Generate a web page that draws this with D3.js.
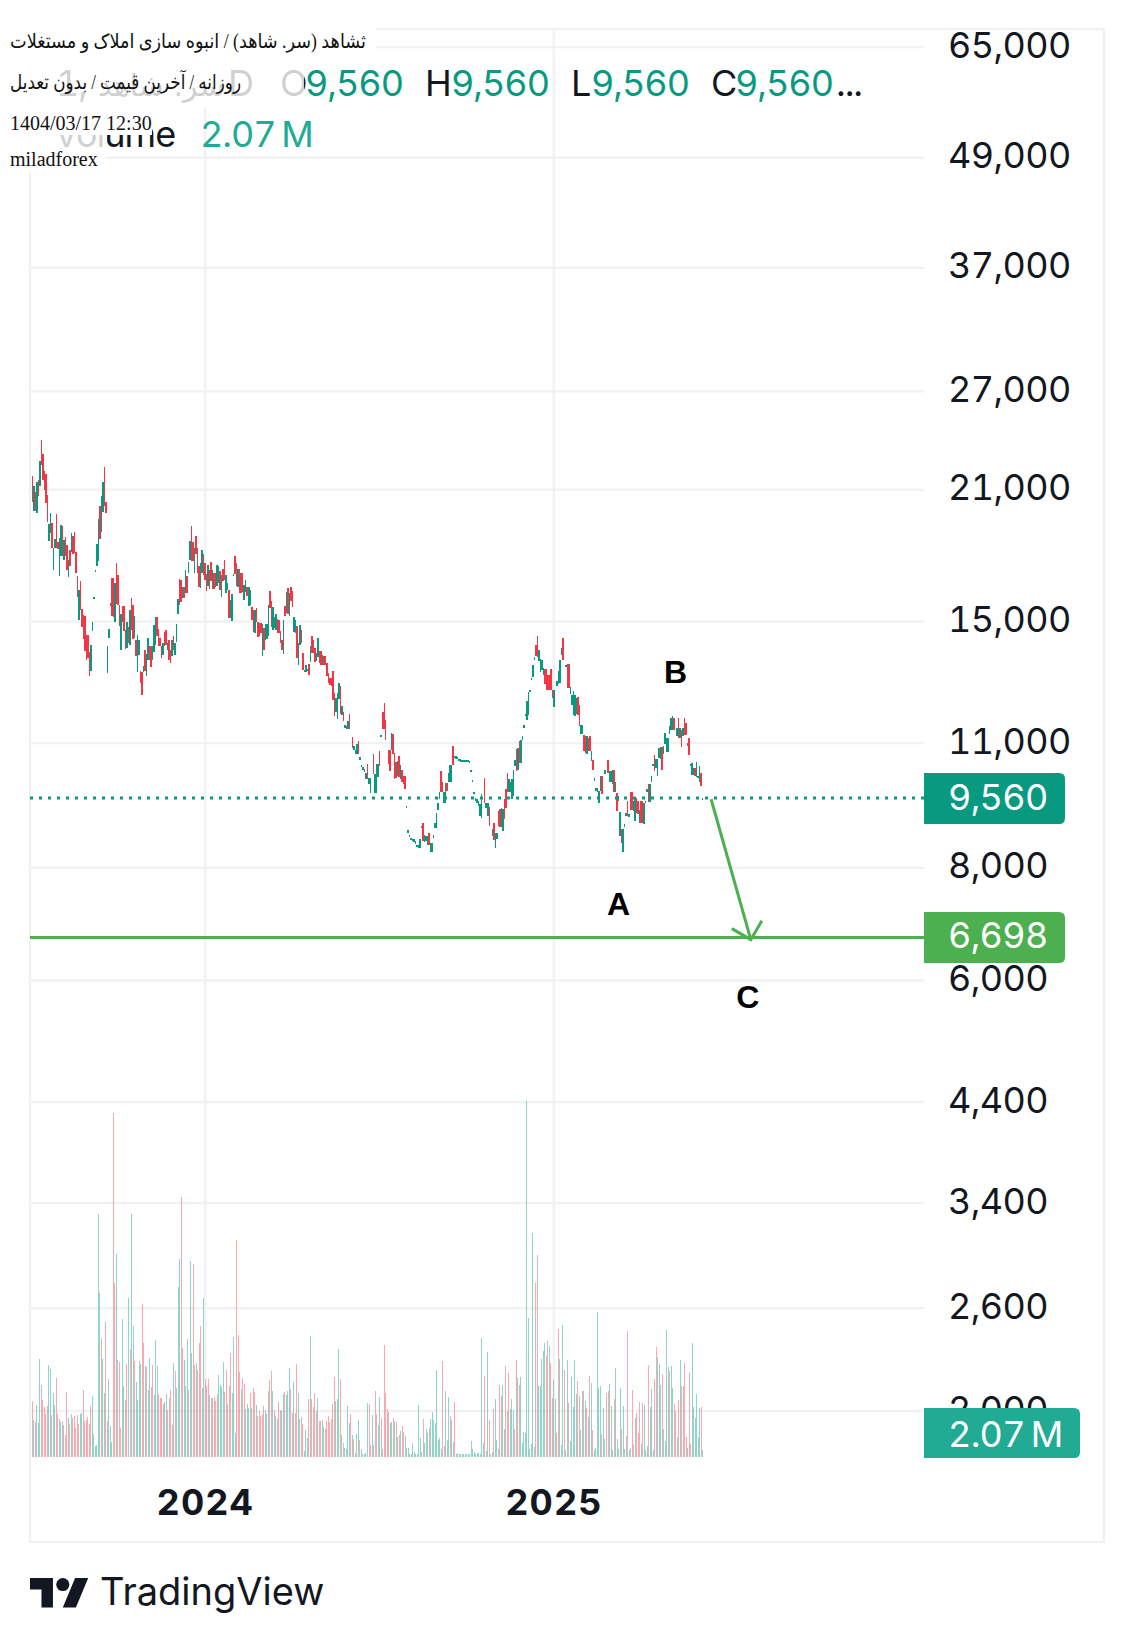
<!DOCTYPE html>
<html>
<head>
<meta charset="utf-8">
<script src="https://cdn.jsdelivr.net/npm/d3@7"></script>
<style>
  html, body { margin: 0; background: #fff; }
  svg { display: block; }
  text { font-family: Inter, "Noto Sans", sans-serif; font-variant-numeric: tabular-nums; font-feature-settings: "tnum"; }
</style>
</head>
<body>
<script>
// values
const opens = [
  21760,19870,20900,19790,21530,21180,23840,23000,22030,21860,
  20730,18400,18790,19280,17090,18090,19760,18360,16830,17710,
  19160,17530,18610,18240,16790,18010,17930,18660,18860,17920,
  16830,15040,16650,15500,15240,15210,14500,14500,13870,13210,
  14630,15870,17010,17270,17490,20150,18830,19820,21430,20360,
  13160,14400,15600,16780,16780,14970,16900,16900,15650,13960,
  15620,15620,14690,14020,14810,14140,15930,15660,14380,14320,
  13180,13780,13210,13190,13180,13960,13040,13590,14080,14100,
  13590,13870,14140,15170,14710,14380,14080,13780,14620,14690,
  13960,14320,13960,13720,14470,13760,14240,15300,16720,16690,
  15920,16400,16130,16860,16980,17560,18360,18360,16980,18660,
  18090,17300,16340,16980,17830,17420,16950,16430,17120,17470,
  16300,16980,16980,16430,16540,17080,15980,17150,17530,16130,
  16270,16270,15130,15030,16830,17710,17400,16400,17150,16980,
  16980,15860,16190,16400,15600,15630,15560,15460,14570,15530,
  14970,14950,14960,13720,14750,14300,14360,14440,16230,15790,
  14690,14750,14690,15110,15040,14630,14320,13810,15590,15330,
  16330,15220,16400,16230,14610,14570,14840,13440,14140,14690,
  13840,13180,13180,13210,13470,13520,14470,14300,14020,13550,
  13690,13920,13920,13420,13750,13740,13480,13160,12990,12990,
  13210,12500,11900,11700,12320,12710,11830,11900,11420,11390,
  11390,11850,null,11170,10820,10700,10690,11070,10530,10350,
  10280,10210,10030,10440,9900,9690,null,10710,9680,9680,
  10090,10770,11170,11900,11900,11660,null,10800,10800,10800,
  11270,10730,10480,10110,10640,10030,10280,10110,10110,9310,
  8750,8660,8600,8560,8540,8500,8440,8410,8410,
  8860,8970,8540,8560,8480,8750,8340,8340,8630,
  8860,8860,9270,9530,10250,9970,9450,9450,9930,9950,
  9950,9950,10930,10590,10570,10570,10500,10490,10480,10480,
  10480,10480,10470,10460,10240,9950,9650,9490,9430,9370,
  9130,9090,null,10050,9330,9130,9350,null,8670,8960,
  8410,8600,9250,9290,8880,8790,9530,9775,10190,9700,
  9700,9530,9610,10370,10840,10280,11050,10460,11100,11440,
  11780,11680,11830,12540,12910,13030,13610,14110,14450,13550,
  13180,13270,13100,13290,13290,13100,13100,13290,12590,12050,
  null,12720,12800,12830,13770,14380,null,13360,13470,13460,12480,
  12110,11830,11780,11860,12370,12130,11250,11250,11220,11190,
  10710,11150,11190,10510,10530,9990,9730,9700,9450,9730,
  10110,null,10160,null,10530,9950,9950,9920,10260,9700,9680,
  9490,8670,8825,8340,8880,9130,9490,9110,9700,9700,
  9250,9010,9570,9490,8960,9490,9490,8940,9450,9700,
  9900,9470,9950,10370,10660,10330,10110,10600,10570,10900,
  10690,10960,10750,10750,11250,11370,11370,11730,null,11190,
  11730,11150,11370,11190,11730,11580,10990,11150,10370,10130,
  10130,10330,10090,10050,9950,10190,9540
];
const closes = [
  20370,21180,19870,21400,20640,22570,22340,21530,21000,20320,
  19320,19240,19790,18110,18090,18530,18090,18040,18560,19210,
  17710,18480,17740,17120,17560,17270,18790,17830,17860,16980,
  15960,16270,15460,14790,14360,13900,13610,13670,13040,14140,
  14990,15980,17120,18300,19500,18530,20640,21430,20120,19770,
  14080,14730,15740,15220,15190,16560,15680,15650,14840,15280,
  14990,14650,14000,14990,14200,15460,14690,14360,15200,13720,
  14500,14320,12810,12430,13400,13210,13820,14380,13610,13350,
  14100,14870,15170,14440,14080,14080,13670,14200,14080,14140,
  14200,13590,13500,14320,13940,14200,14920,15900,15640,15770,
  16400,15930,17120,16130,17460,18430,17710,17490,18090,17830,
  16980,16370,17420,18010,16900,16690,16230,17310,16300,16620,
  17120,16300,16400,17340,17300,16270,16900,16620,16690,16900,
  16540,15130,15860,16100,16950,16950,16430,17150,16130,16150,
  16190,16480,16690,16000,16400,16270,15070,14600,15460,14970,
  14420,14450,14570,14920,13940,14920,14920,15660,15530,14810,
  15580,15190,15300,14550,14550,14200,13960,15070,15200,16170,
  15300,16130,15820,15560,15180,15070,13680,14200,14870,14190,
  13270,13270,13440,13290,13100,14100,13840,13840,13520,13840,
  14390,13500,13440,13780,13420,13430,13040,12810,12750,12720,
  12290,11800,12340,12500,12810,11850,12100,11630,11510,11490,
  11630,11390,null,10860,10910,10820,10960,10690,10610,10410,
  10350,10300,10200,10030,10070,10070,null,10160,10160,10440,
  10440,10370,11240,11390,11390,11100,null,10430,10240,11290,
  10690,10030,10050,10500,10090,10410,9950,9900,9775,9360,
  8800,8710,8640,8620,8600,8560,8490,8480,8600,
  8910,8560,8690,8670,8670,8490,8530,8530,8700,
  8960,9210,9450,9720,9700,9700,9700,9930,9740,10190,
  10410,10410,10410,10640,10630,10620,10570,10550,10540,10540,
  10540,10540,10540,10510,10280,10000,9700,9550,9530,9490,
  9410,9650,null,9430,9450,9450,8910,null,8825,8590,
  8750,8750,8900,8880,9330,9290,9070,9330,9700,10030,
  9950,10030,10280,10530,10240,10870,10460,11100,11190,11530,
  11860,12240,12520,12610,13000,13430,13710,13730,13710,13940,
  13630,13610,13330,12800,12580,12580,12580,12590,12340,12590,
  null,12880,13210,13590,14020,13610,null,13440,12670,12670,12680,
  12420,12560,12420,12340,11830,11490,11510,11510,10780,10730,
  11190,10780,10780,10780,10280,10050,9800,9800,9730,10110,
  9650,null,10270,null,10190,10240,10240,10260,9700,9950,9250,
  9610,9230,8530,8825,8940,9200,9130,9170,9270,9270,
  9490,9570,9210,9170,9270,8960,8980,9450,9490,9790,
  9470,9900,10110,10440,10240,10550,10550,10870,10900,10280,
  10920,11290,11150,11150,11490,11730,11800,11370,null,11440,
  11150,11440,10900,11440,11240,11240,10930,10660,10440,10460,
  10310,10110,10480,10110,10370,9860,9570
];
// only the few bars with a wick clearly past the body
const wickBars = [48, 56, 106, 234];
const wickHighs = [22240, 17400, 19160, 12170];
const wickLows = [20120, 15680, 17490, 11390];

// volume in millions
const volumes = [
  16.8,11.1,10.5,15.6,10.2,29.4,21.6,17.1,15,12.9,
  15.3,27.6,26.4,12.6,19.2,15.6,23.7,12.9,11.4,10.5,
  10.8,9.6,6.6,19.5,11.7,9.9,12.9,11.7,12.3,8.7,
  12.6,9.9,12.9,13.2,20.1,10.8,11.1,12,9.9,15.3,
  18.3,6.9,3.3,3.6,72.9,49.2,35.7,29.4,19.2,40.5,
  10.8,23.4,9.3,4.5,103.1,52.2,60.9,29.1,28.5,8.7,
  41.4,21.3,17.1,27.9,47.7,32.4,72.9,39.3,28.8,22.5,
  17.1,28.8,27.9,45.9,34.2,27.3,27,20.1,29.7,21,
  27.6,18.6,35.1,27.3,18.9,17.7,17.7,15.9,16.5,18.9,
  14.1,17.7,20.1,9.6,28.2,25.8,20.7,51,59.4,78,
  32.7,29.1,21.3,35.4,20.1,58.8,31.2,57.9,27.6,28.2,
  26.1,34.2,39.3,20.7,47.7,23.4,21.3,23.4,18.6,17.7,
  17.7,17.7,16.8,18.9,24.6,21.6,21,28.5,19.5,26.1,
  15.9,21.3,31.2,19.2,36,7.2,65.1,36.6,25.5,20.4,
  23.7,21.9,14.4,15.9,14.7,19.2,14.7,20.7,19.5,15.6,
  12.3,13.8,12.3,12.9,15.3,14.1,12.9,19.8,23.1,25.8,
  19.8,14.1,12.3,11.4,16.5,14.1,13.8,18.9,19.5,18.6,
  19.8,26.7,20.4,13.2,22.5,13.2,27.9,19.2,11.4,12,
  9.9,1.8,8.1,5.7,17.4,36.3,17.4,15,19.2,13.8,
  17.7,10.8,10.8,11.1,9,8.4,10.8,12.3,10.5,11.4,
  15.9,24,16.8,17.4,32.4,23.4,6.6,4.2,2.7,2.4,
  15.3,10.2,12.9,6.6,5.4,1.2,6.9,11.1,5.1,2.4,
  0.9,0.9,1.2,16.2,15.9,3.6,12.6,3.6,19.8,12.9,
  9.6,18,11.7,2.4,33.6,19.2,14.4,13.5,10.2,10.5,
  11.7,10.8,10.5,6,6.6,7.8,
  9.3,7.5,6.3,2.7,2.7,0.9,0.9,4.2,1.5,0.9,
  0.9,15.6,5.7,1.5,11.4,4.2,8.4,7.2,8.7,11.4,
  13.5,11.1,10.2,26.1,5.1,5.7,2.4,28.8,3.3,19.8,
  5.1,18,12.3,11.1,4.5,16.5,0.9,1.2,0.9,0.9,
  0.9,0.9,0.9,0.9,0.9,0.9,4.8,2.4,1.5,0.9,
  1.2,1.2,0.9,35.7,4.2,24.3,1.8,31.5,11.1,0.9,
  1.5,14.4,17.4,5.1,2.4,21.6,18.3,21.6,8.4,27.3,
  13.8,25.2,14.4,17.4,14.1,8.4,29.1,23.7,21.6,24,
  4.2,7.5,7.2,106.8,41.7,2.4,3.9,67.2,3,52.2,
  60.6,21.3,21.3,29.4,31.8,34.2,30.3,34.8,33.3,28.2,
  17.7,23.1,17.4,7.2,38.4,29.4,3.6,39.6,26.1,2.1,
  29.1,16.2,4.8,24,15,29.1,18.9,22.8,18.3,8.1,
  19.8,19.8,16.8,14.7,12,24.3,22.2,8.1,2.1,2.7,
  43.5,20.7,21.3,6.9,14.7,5.4,19.2,19.8,21.9,15.3,
  2.1,17.4,26.7,5.4,2.4,20.7,8.4,15.3,2.4,6.3,
  37.8,2.1,2.7,20.1,3.9,11.7,13.2,7.2,16.5,3.9,
  16.2,15.6,2.1,3.3,27.6,15,20.4,2.1,23.4,33,
  30,27.9,21.6,24.9,8.4,4.8,38.1,27,25.8,27.3,
  20.7,15.9,13.8,6,17.1,29.1,21.3,21.3,28.2,6,
  2.7,25.5,3.9,34.2,15,11.7,18.9,6,14.7,15,
  2.07
];
// u = up bar, d = down bar, same rows as volumes
const volumeSides = [
  "duduuudddd","duuduudduu","duddududdd","dduudddddd","uuuuuuduud",
  "duuudduddd","uudduduudu","uuudduduud","duuudddduu","dddduduuud",
  "duuuduuddu","ddduuddduu","dddduuuudd","udduuudddu","dduuududdu",
  "ddddduuudd","uduudduudu","uuddudduud","duuududddd","udduuddddd",
  "dduuududuu","uududuuudu","uuuudduudd","uududddduu","dududu",
  "dduuuuuuuu","uuuuduuudu","uuuuuuuddu","uuduuduuuu","uuuuuuuuuu",
  "uuuuuduudu","uduuudduud","dduuuddudu","uuuuuuuuud","duuuuuddud",
  "duudduuudu","uduuuuuddu","ududududuu","uuuduudduu","uduuuuduuu",
  "duuddudddu","duuuduuudd","uuuduuuudu","uddududddd","udduuuuuud",
  "u"
].join("");

const yTicks = [65000, 49000, 37000, 27000, 21000, 15000, 11000, 8000, 6000, 4400, 3400, 2600, 2000];
const yearLabels = ["2024", "2025"];
const yearBars = [115, 347];
const lastPrice = 9560;
const targetPrice = 6698;
const lastVolume = "2.07\u2009M";
const waveLabels = ["A", "B", "C"];
const waveBars = [390, 428, 476];
const wavePrices = [7090, 12830, 5590];
const arrowBars = [451.6, 478];
const arrowPrices = [9530, 6660];
const watermark = [
  "ثشاهد (سر. شاهد) / انبوه سازی املاک و مستغلات",
  "روزانه / آخرین قیمت / بدون تعدیل",
  "1404/03/17 12:30",
  "miladforex"
];

const w = 1134;
const h = 1647;
const plotLeft = 30;
const plotRight = 924;
const frameRight = 1104;
const frameTop = 30;
const frameBottom = 1542;
const paneBottom = 1457;
const labelX = 948;

const green = "#089981";
const red = "#f23645";
const lineGreen = "#4caf50";
const volGreen = "#22ab94";
const gridColor = "#f2f2f4";
const ink = "#131722";

const svg = d3.select("body").append("svg").attr("width", w).attr("height", h);

const xScale = d3.scaleLinear().domain([0, opens.length - 1]).range([32.3, 702.7]);
const yScale = d3.scaleLog().domain([65000, 2000]).range([47, 1411]);
const volScale = d3.scaleLinear().domain([0, 106]).range([paneBottom, paneBottom - 353.3]);

// frame and grid
svg.append("rect")
   .attr("x", plotLeft).attr("y", frameTop - 1)
   .attr("width", frameRight - plotLeft).attr("height", frameBottom - frameTop + 1)
   .attr("fill", "none").attr("stroke", "#f0f0f4").attr("stroke-width", 2);

svg.selectAll(".hgrid").data(yTicks).enter().append("line")
   .attr("x1", plotLeft).attr("x2", plotRight)
   .attr("y1", d => yScale(d)).attr("y2", d => yScale(d))
   .attr("stroke", gridColor).attr("stroke-width", 2.5);

svg.selectAll(".vgrid").data(yearBars).enter().append("line")
   .attr("x1", d => xScale(d)).attr("x2", d => xScale(d))
   .attr("y1", frameTop).attr("y2", paneBottom)
   .attr("stroke", gridColor).attr("stroke-width", 2.5);

// volume under the candles
svg.append("g").attr("shape-rendering", "crispEdges")
   .selectAll("rect").data(volumes).enter().append("rect")
   .attr("x", (d, i) => Math.floor(xScale(i)))
   .attr("width", 1)
   .attr("y", d => volScale(d))
   .attr("height", d => paneBottom - volScale(d))
   .attr("fill", (d, i) => volumeSides[i] === "d" ? "#f7525f" : volGreen)
   .attr("opacity", 0.5);

// candles
const bars = opens.map((o, i) => ({i, o, c: closes[i]})).filter(d => d.o !== null);
const candles = svg.append("g").attr("shape-rendering", "crispEdges");

candles.selectAll(".wick").data(wickBars).enter().append("rect")
   .attr("x", d => Math.floor(xScale(d)))
   .attr("width", 1)
   .attr("y", (d, j) => yScale(wickHighs[j]))
   .attr("height", (d, j) => yScale(wickLows[j]) - yScale(wickHighs[j]))
   .attr("fill", d => closes[d] < opens[d] ? red : green);

candles.selectAll(".body").data(bars).enter().append("rect")
   .attr("x", d => Math.round(xScale(d.i) - 0.75))
   .attr("width", d => Math.round(xScale(d.i) + 0.75) - Math.round(xScale(d.i) - 0.75))
   .attr("y", d => yScale(Math.max(d.o, d.c)))
   .attr("height", d => Math.max(2, Math.abs(yScale(d.o) - yScale(d.c))))
   .attr("fill", d => d.c < d.o ? red : green);

// last price and target lines
svg.append("line")
   .attr("x1", plotLeft).attr("x2", plotRight)
   .attr("y1", yScale(lastPrice)).attr("y2", yScale(lastPrice))
   .attr("stroke", green).attr("stroke-width", 3).attr("stroke-dasharray", "3 6");

svg.append("line")
   .attr("x1", plotLeft).attr("x2", plotRight)
   .attr("y1", yScale(targetPrice)).attr("y2", yScale(targetPrice))
   .attr("stroke", lineGreen).attr("stroke-width", 3);

// arrow down to the target
const ax0 = xScale(arrowBars[0]), ay0 = yScale(arrowPrices[0]);
const ax1 = xScale(arrowBars[1]), ay1 = yScale(arrowPrices[1]);
svg.append("path")
   .attr("d", `M${ax0},${ay0}L${ax1},${ay1}M${ax1 - 19},${ay1 - 11}L${ax1},${ay1}L${ax1 + 11},${ay1 - 19}`)
   .attr("fill", "none").attr("stroke", lineGreen).attr("stroke-width", 3);

svg.selectAll(".wave").data(waveLabels).enter().append("text")
   .attr("x", (d, i) => xScale(waveBars[i]))
   .attr("y", (d, i) => yScale(wavePrices[i]))
   .attr("text-anchor", "middle")
   .style("font-family", '"Liberation Sans", sans-serif')
   .style("font-weight", 700).style("font-size", "32px")
   .attr("fill", "#000")
   .text(d => d);

// price axis labels
svg.selectAll(".tick").data(yTicks).enter().append("text")
   .attr("x", labelX)
   .attr("y", d => yScale(d) + 10.5)
   .attr("fill", ink)
   .style("font-size", "36px").style("letter-spacing", "-0.6px")
   .text(d => d3.format(",")(d));

const tag = (y0, y1, x1, fill, label, baseline) => {
  const r = 6;
  svg.append("path")
     .attr("d", `M924,${y0}H${x1 - r}Q${x1},${y0} ${x1},${y0 + r}V${y1 - r}Q${x1},${y1} ${x1 - r},${y1}H924Z`)
     .attr("fill", fill);
  svg.append("text")
     .attr("x", labelX).attr("y", baseline)
     .attr("fill", "#fff")
     .style("font-size", "36px").style("letter-spacing", "-0.7px")
     .text(label);
};
tag(773, 824, 1065, green, d3.format(",")(lastPrice), 810);
tag(912, 963, 1065, lineGreen, d3.format(",")(targetPrice), 948);
tag(1408, 1458, 1080, volGreen, lastVolume, 1447);

svg.selectAll(".year").data(yearLabels).enter().append("text")
   .attr("x", (d, i) => xScale(yearBars[i]))
   .attr("y", 1515)
   .attr("text-anchor", "middle")
   .attr("fill", ink)
   .style("font-size", "36px").style("font-weight", 700).style("letter-spacing", "1px")
   .text(d => d);

// legend
const legendText = (x, y, s, fill) => svg.append("text")
   .attr("x", x).attr("y", y).attr("fill", fill)
   .style("font-size", "36px").style("letter-spacing", "-1px").text(s);

const legendKeys = ["O", "H", "L", "C"];
const legendKeyX = [280, 425, 571, 711];
const legendValueX = [305, 451, 591, 735];

legendText(56, 96, "1,", ink);
svg.append("text").attr("x", 98).attr("y", 96).attr("fill", ink)
   .style("font-family", '"DejaVu Sans", sans-serif').style("font-size", "30px")
   .text("سر. شاهد");
legendText(228, 96, "D", ink);
legendKeys.forEach((k, i) => {
  legendText(legendKeyX[i], 96, k, ink);
  legendText(legendValueX[i], 96, d3.format(",")(lastPrice), green);
});
legendText(836, 96, "...", ink);
legendText(54, 147, "Volume", ink);
legendText(200, 147, lastVolume, volGreen);

// the pasted white watermark strips on top of the legend
svg.append("rect").attr("x", 0).attr("y", 26).attr("width", 376).attr("height", 36).attr("fill", "#fff");
svg.append("rect").attr("x", 0).attr("y", 62).attr("width", 304).attr("height", 46).attr("fill", "#fff").attr("opacity", 0.8);
svg.append("rect").attr("x", 0).attr("y", 108).attr("width", 152).attr("height", 27).attr("fill", "#fff");
svg.append("rect").attr("x", 0).attr("y", 135).attr("width", 107).attr("height", 38).attr("fill", "#fff").attr("opacity", 0.8);

const wmRight = [366, 241];
const wmLen = [356, 231];
svg.selectAll(".wm").data(watermark.slice(0, 2)).enter().append("text")
   .attr("x", (d, i) => wmRight[i])
   .attr("y", (d, i) => i === 0 ? 48 : 89)
   .attr("direction", "rtl")
   .attr("textLength", (d, i) => wmLen[i])
   .attr("lengthAdjust", "spacingAndGlyphs")
   .attr("fill", "#111")
   .style("font-family", '"Liberation Serif", "DejaVu Sans", serif')
   .style("font-size", "20px")
   .text(d => d);

svg.selectAll(".wm2").data(watermark.slice(2)).enter().append("text")
   .attr("x", 10)
   .attr("y", (d, i) => i === 0 ? 130 : 166)
   .attr("fill", "#111")
   .style("font-family", '"Liberation Serif", serif')
   .style("font-size", "20px")
   .text(d => d);

// logo
const logo = svg.append("g").attr("transform", "translate(30,1571.4) scale(1.64)").attr("fill", ink);
logo.append("path").attr("d", "M14 22H7V11H0V4h14v18zM28 22h-8l7.5-18h8L28 22z");
logo.append("circle").attr("cx", 20).attr("cy", 8).attr("r", 4);

svg.append("text")
   .attr("x", 100).attr("y", 1605)
   .attr("fill", ink)
   .style("font-size", "38px")
   .text("TradingView");
</script>
</body>
</html>
